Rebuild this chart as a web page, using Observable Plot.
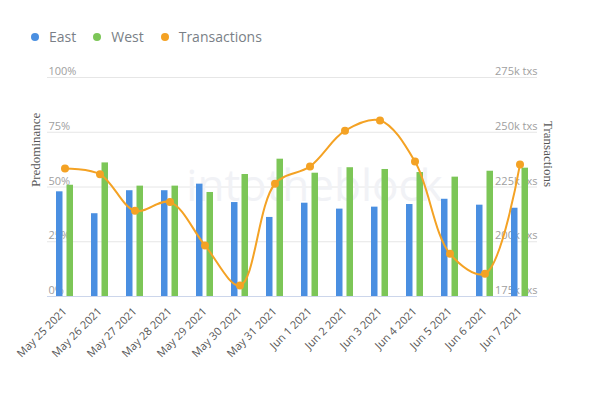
<!DOCTYPE html>
<html>
<head>
<meta charset="utf-8">
<script src="https://cdn.jsdelivr.net/npm/d3@7"></script>
<script src="https://cdn.jsdelivr.net/npm/@observablehq/plot@0.6"></script>
<style>
  html, body { margin: 0; padding: 0; background: #fff; }
  #legend { height: 55px; box-sizing: border-box; padding: 27px 0 0 31px; font-family: "Open Sans", sans-serif; font-size: 14px; color: #7a7f87; display: flex; align-items: flex-start; line-height: 20px; }
  .item { display: flex; align-items: center; margin-right: 17px; height: 20px; }
  .sw { width: 8px; height: 8px; border-radius: 50%; margin-right: 10px; }
</style>
</head>
<body>
<div id="legend"></div>
<div id="chart"></div>
<script>
const dates = ["May 25 2021","May 26 2021","May 27 2021","May 28 2021","May 29 2021","May 30 2021","May 31 2021","Jun 1 2021","Jun 2 2021","Jun 3 2021","Jun 4 2021","Jun 5 2021","Jun 6 2021","Jun 7 2021"];
const east = [47.8, 37.8, 48.3, 48.3, 51.3, 42.9, 36.1, 42.6, 39.9, 40.8, 42.0, 44.4, 41.7, 40.3];
const west = [50.8, 61.0, 50.4, 50.4, 47.5, 55.7, 62.7, 56.3, 58.8, 58.0, 56.6, 54.5, 57.2, 58.6];
const transactions = [233.4, 230.8, 214.1, 218.1, 198.3, 180.0, 226.5, 234.4, 250.7, 255.4, 236.6, 194.5, 185.4, 235.3]; // thousands
const pctTicks = [0, 25, 50, 75, 100];
const txTicks = [175, 200, 225, 250, 275];
const seriesNames = ["East", "West", "Transactions"];
const colors = ["#4a8fe1", "#7cc657", "#f4a224"];

const legend = document.getElementById("legend");
seriesNames.forEach((n, i) => {
  const it = document.createElement("div");
  it.className = "item";
  it.innerHTML = `<span class="sw" style="background:${colors[i]}"></span><span>${n}</span>`;
  legend.appendChild(it);
});

const txToPct = d3.scaleLinear([txTicks[0], txTicks[txTicks.length - 1]], [0, 100]);
const rows = dates.map((d, i) => ({date: d, east: east[i], west: west[i], tx: transactions[i], txPct: txToPct(transactions[i])}));

const chart = Plot.plot({
  width: 593,
  height: 338,
  marginTop: 22,
  marginBottom: 97,
  marginLeft: 47,
  marginRight: 56,
  style: {fontFamily: "Open Sans, sans-serif", background: "#fff"},
  x: {type: "band", domain: dates, padding: 0},
  y: {domain: [0, 100], axis: null},
  marks: [
    Plot.ruleY(pctTicks.slice(1), {stroke: "#e6e6e6", strokeWidth: 1}),
    Plot.text(["intotheblock"], {frameAnchor: "middle", dx: 22, dy: 0, text: d => d, fill: "#f1f2f6", fontSize: 44, fontFamily: "Open Sans, sans-serif"}),
    Plot.text(pctTicks, {y: d => d, text: d => d + "%", frameAnchor: "left", textAnchor: "start", dx: 1, dy: -6, fill: "#a0a0a0", fontSize: 11}),
    Plot.text(txTicks, {y: d => txToPct(d), text: d => d + "k txs", frameAnchor: "right", textAnchor: "end", dy: -6, fill: "#a0a0a0", fontSize: 11}),
    Plot.barY(rows, {x: "date", y: "east", fill: colors[0], insetLeft: 9, insetRight: 19.5}),
    Plot.barY(rows, {x: "date", y: "west", fill: colors[1], insetLeft: 19.5, insetRight: 9}),
    Plot.ruleY([0], {stroke: "#ccd6eb", strokeWidth: 1}),
    Plot.line(rows, {x: "date", y: "txPct", stroke: colors[2], strokeWidth: 2, curve: "catmull-rom"}),
    Plot.dot(rows, {x: "date", y: "txPct", r: 4, fill: colors[2]}),
    Plot.axisX({tickRotate: -45, tickSize: 0, tickPadding: 13, fontSize: 11, fill: "#555", label: null}),
    Plot.text(["Predominance"], {frameAnchor: "left", dx: -12, rotate: -90, text: d => d, fontFamily: "Liberation Serif, serif", fontSize: 13, fill: "#555"}),
    Plot.text(["Transactions"], {frameAnchor: "right", dx: 11, rotate: 90, text: d => d, fontFamily: "Liberation Serif, serif", fontSize: 13, fill: "#555"})
  ]
});
document.getElementById("chart").appendChild(chart);
</script>
</body>
</html>
